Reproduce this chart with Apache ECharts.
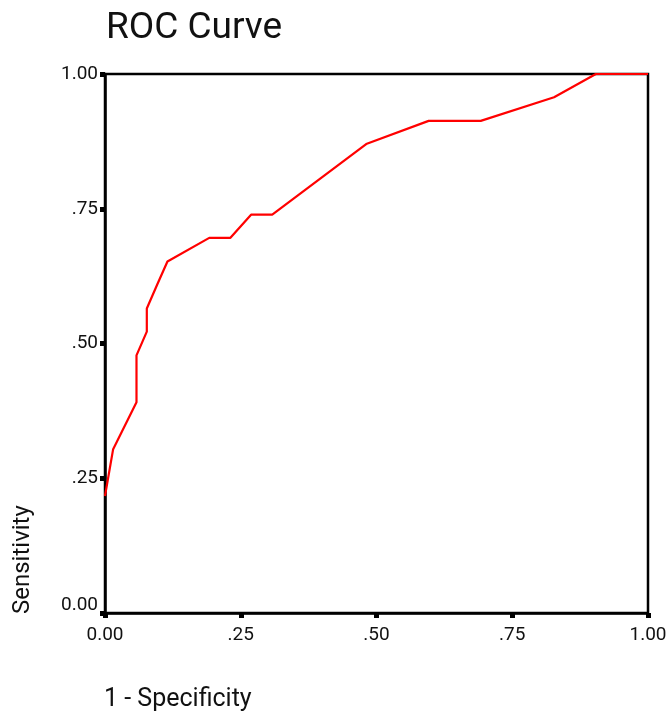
<!DOCTYPE html>
<html>
<head>
<meta charset="utf-8">
<script src="https://cdn.jsdelivr.net/npm/echarts@6/dist/echarts.min.js"></script>
<style>html,body{margin:0;padding:0;background:#fff;}#c{width:671px;height:716px;}</style>
</head>
<body>
<div id="c"></div>
<script>
const titleText = 'ROC Curve';
const xName = '1 - Specificity';
const yName = 'Sensitivity';
const tickValues = [0, 0.25, 0.5, 0.75, 1];
const tickLabels = ['0.00', '.25', '.50', '.75', '1.00'];
// 1 - specificity (false positive rate)
const fpr = [0, 0.015, 0.058, 0.058, 0.058, 0.077, 0.077, 0.096, 0.115, 0.192, 0.231, 0.269, 0.308, 0.481, 0.596, 0.692, 0.827, 0.904, 1.0];
// sensitivity (true positive rate)
const tpr = [0.217, 0.304, 0.391, 0.435, 0.478, 0.522, 0.565, 0.609, 0.652, 0.696, 0.696, 0.739, 0.739, 0.870, 0.913, 0.913, 0.957, 1.0, 1.0];

const FONT = 'Roboto';
function labelFor(v) {
  const i = tickValues.findIndex(t => Math.abs(t - v) < 1e-9);
  return i >= 0 ? tickLabels[i] : '';
}
const chart = echarts.init(document.getElementById('c'), null, {renderer: 'canvas'});
chart.setOption({
  animation: false,
  backgroundColor: '#fff',
  grid: {left: 105, right: 23, top: 74, bottom: 103, show: true, borderColor: '#000', borderWidth: 2.5, backgroundColor: 'transparent'},
  xAxis: {
    type: 'value', min: 0, max: 1, interval: 0.25,
    axisLine: {show: true, lineStyle: {color: '#000', width: 2.5}},
    axisTick: {show: true, length: 5, lineStyle: {color: '#000', width: 5}},
    splitLine: {show: false},
    axisLabel: {color: '#111', fontFamily: FONT, fontSize: 19, margin: 13, formatter: v => labelFor(v)}
  },
  yAxis: {
    type: 'value', min: 0, max: 1, interval: 0.25,
    axisLine: {show: true, lineStyle: {color: '#000', width: 2.5}},
    axisTick: {show: true, length: 5, lineStyle: {color: '#000', width: 5}},
    splitLine: {show: false},
    axisLabel: {color: '#111', fontFamily: FONT, fontSize: 19, margin: 7,
      formatter: v => v === 0 ? '{z|' + labelFor(v) + '}' : labelFor(v),
      rich: {z: {fontFamily: FONT, fontSize: 19, color: '#111', padding: [0, 0, 16, 0]}}}
  },
  series: [{
    type: 'line',
    data: fpr.map((x, i) => [x, tpr[i]]),
    showSymbol: false,
    symbol: 'none',
    lineStyle: {color: '#ff0000', width: 2.2},
    z: 3
  }],
  graphic: [
    {type: 'text', x: 106, y: 29, style: {text: titleText, font: '37px "' + FONT + '"', fill: '#111', textAlign: 'left', textVerticalAlign: 'middle'}},
    {type: 'text', x: 104, y: 700, style: {text: xName, font: '25px "' + FONT + '"', fill: '#111', textAlign: 'left', textVerticalAlign: 'middle'}},
    {type: 'text', x: 23, y: 614, rotation: Math.PI / 2, style: {text: yName, font: '24px "' + FONT + '"', fill: '#111', textAlign: 'left', textVerticalAlign: 'middle'}}
  ]
});
</script>
</body>
</html>
